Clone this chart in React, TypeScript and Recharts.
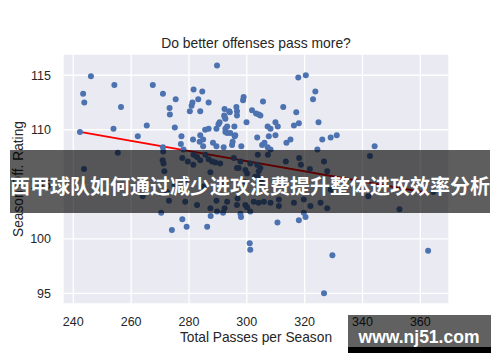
import React from 'react';
import { ScatterChart, Scatter, XAxis, YAxis, CartesianGrid, ReferenceLine, Label } from 'recharts';

// Total passes per season (x) and season offensive rating (y)
const passes = [
  246.1, 254.2, 243.4, 243.8, 256.5, 242.3, 253.9, 267.5, 271.0, 275.4,
  273.3, 273.4, 265.4, 262.3, 275.1, 277.4, 277.2, 278.1, 271.0, 281.4,
  281.6, 280.3, 280.9, 281.2, 289.7, 317.8, 320.4, 323.7, 322.9, 324.8,
  284.6, 283.2, 286.8, 283.9, 298.9, 298.7, 305.6, 312.6, 317.1, 292.3,
  294.1, 296.4, 296.6, 296.6, 292.2, 292.6, 301.8, 303.2, 304.1, 304.7,
  299.9, 290.6, 290.2, 289.5, 292.6, 293.2, 292.6, 293.2, 294.3, 295.7,
  296.0, 285.6, 286.8, 283.9, 284.9, 288.3, 289.5, 292.0, 294.9, 298.1,
  303.6, 305.3, 306.1, 307.2, 308.2, 307.2, 308.2, 309.9, 310.7, 307.6,
  309.9, 313.7, 315.1, 316.3, 318.0, 324.4, 329.0, 331.1, 344.2, 326.1,
  284.9, 283.7, 295.1, 295.8, 292.3, 293.9,
  255.4, 243.7, 271.1, 270.9, 271.2, 271.5, 277.7, 279.6, 281.6, 272.4,
  273.1, 264.0, 282.8, 283.9, 286.8, 288.0, 281.5, 290.8, 295.5, 297.8,
  297.2, 299.5, 301.2, 303.6, 278.7, 282.8, 287.4, 289.7, 293.2, 296.6,
  300.1, 301.2, 297.8, 303.8, 307.3, 313.5, 318.1, 318.7, 321.8, 326.7,
  327.8, 304.7, 304.1, 305.9, 304.1, 308.2, 311.1, 311.1, 316.3, 319.7,
  322.0, 325.5, 327.8, 329.0, 342.6, 342.0, 352.8, 364.5, 319.7, 302.4,
  296.8, 289.5, 292.3, 291.8, 299.5, 285.7, 289.1, 287.4, 296.6, 303.8,
  305.0, 302.9, 300.1, 299.5, 291.8, 285.1, 278.7, 275.0,
  270.4, 277.7, 274.1, 279.2, 286.3, 287.5, 298.0, 301.0, 301.2, 310.6,
  318.0, 320.3, 329.6, 326.7, 362.7,
];
const ratings = [
  114.9, 114.1, 113.3, 112.5, 112.1, 109.8, 110.1, 114.1, 113.3, 112.8,
  112.0, 111.4, 110.4, 109.4, 110.2, 109.4, 108.7, 108.2, 108.4, 109.1,
  113.7, 111.7, 112.2, 112.5, 115.9, 114.8, 115.0, 113.5, 112.8, 110.7,
  113.5, 112.8, 112.5, 111.7, 113.0, 112.7, 112.6, 112.1, 111.6, 111.9,
  111.6, 112.1, 111.7, 111.3, 111.3, 111.0, 111.8, 111.5, 111.4, 111.3,
  110.7, 110.7, 110.5, 110.1, 110.1, 110.3, 109.8, 109.7, 109.7, 110.3,
  109.5, 110.0, 110.1, 109.5, 109.1, 108.8, 108.5, 108.4, 108.6, 108.5,
  109.3, 108.6, 108.8, 108.4, 108.2, 110.3, 110.1, 110.7, 110.3, 109.4,
  109.5, 108.8, 109.1, 110.4, 110.6, 108.2, 109.3, 109.5, 108.5, 109.1,
  108.5, 108.9, 108.9, 109.4, 111.2, 111.7,
  107.9, 106.4, 108.0, 107.2, 106.9, 106.2, 107.4, 107.1, 107.7, 104.3,
  103.5, 103.9, 107.5, 107.2, 107.3, 107.1, 106.8, 106.9, 107.4, 107.1,
  106.5, 106.3, 106.9, 106.8, 103.4, 103.1, 102.8, 102.5, 103.4, 103.1,
  102.9, 102.5, 102.3, 107.7, 107.7, 107.1, 107.4, 106.8, 106.4, 107.1,
  106.2, 106.5, 106.2, 103.4, 103.3, 103.3, 103.6, 103.0, 103.3, 103.6,
  103.0, 103.3, 102.8, 104.5, 107.6, 103.9, 102.7, 104.3, 102.4, 103.4,
  103.7, 103.5, 102.8, 102.4, 103.1, 107.7, 107.0, 106.1, 106.5, 105.7,
  105.2, 105.7, 106.0, 105.2, 105.0, 104.8, 105.4, 104.9,
  102.4, 101.8, 100.8, 101.1, 101.1, 102.1, 102.0, 99.6, 99.0, 101.5,
  101.7, 102.0, 98.5, 95.0, 98.9,
];

// Fitted regression line end points
const fitPasses = [242.3, 362.7];
const fitRatings = [109.8, 104.2];

const xTicks = [240, 260, 280, 300, 320, 340, 360];
const yTicks = [95, 100, 105, 110, 115];

const title = 'Do better offenses pass more?';
const xLabel = 'Total Passes per Season';
const yLabel = 'Season Off. Rating';
const bannerText = '西甲球队如何通过减少进攻浪费提升整体进攻效率分析';
const watermarkText = 'www.nj51.com';

const points = passes.map((p, i) => ({ x: p, y: ratings[i] }));

const FONT = "'Liberation Sans', Arial, sans-serif";
const INK = '#262626';

const Dot = (props: any) => {
  if (props.cx == null || props.cy == null) return <g />;
  return <circle cx={props.cx} cy={props.cy} r={3} fill="#4C72B0" />;
};

export default function App() {
  return (
    <div style={{ position: 'absolute', left: 0, top: 0, width: 500, height: 362, background: '#fff', fontFamily: FONT }}>
      <ScatterChart width={500} height={362} margin={{ top: 54, right: 51, bottom: 18, left: 0 }}>
        <CartesianGrid fill="#EAEAF2" stroke="#FFFFFF" strokeWidth={1.3} />
        <XAxis
          dataKey="x"
          type="number"
          domain={[236.44, 369.92]}
          ticks={xTicks}
          interval={0}
          allowDataOverflow
          height={40}
          tickLine={false}
          axisLine={false}
          tickSize={0}
          tickMargin={13}
          tick={{ fontSize: 12.5, fill: INK, fontFamily: FONT }}
        >
          <Label value={xLabel} position="insideBottom" offset={2} style={{ fontSize: 13.75, fill: INK, fontFamily: FONT }} />
        </XAxis>
        <YAxis
          dataKey="y"
          type="number"
          domain={[94.02, 116.95]}
          ticks={yTicks}
          interval={0}
          allowDataOverflow
          width={63}
          tickLine={false}
          axisLine={false}
          tickSize={0}
          tickMargin={12}
          tick={{ fontSize: 12.5, fill: INK, fontFamily: FONT }}
        >
          <Label value={yLabel} angle={-90} position="insideLeft" offset={18} style={{ fontSize: 13.75, fill: INK, fontFamily: FONT, textAnchor: 'middle' }} />
        </YAxis>
        <Scatter data={points} isAnimationActive={false} shape={Dot} />
        <ReferenceLine
          segment={[
            { x: fitPasses[0], y: fitRatings[0] },
            { x: fitPasses[1], y: fitRatings[1] },
          ]}
          stroke="#FF0000"
          strokeWidth={1.8}
          ifOverflow="visible"
        />
      </ScatterChart>
      <svg width={500} height={362} style={{ position: 'absolute', left: 0, top: 0, pointerEvents: 'none' }}>
        <text x={256} y={47.5} textAnchor="middle" fontSize={13.9} fill={INK} fontFamily={FONT}>{title}</text>
        <rect x={10} y={150} width={480} height={63} fill="rgba(0,0,0,0.63)" />
        <text x={250} y={193.5} textAnchor="middle" fontSize={20} fontWeight="bold" fill="#FFFFFF" fontFamily="'Noto Sans CJK SC', sans-serif">{bannerText}</text>
        <rect x={348} y={315} width={143} height={32} fill="rgba(0,0,0,0.62)" />
        <rect x={348} y={347} width={143} height={6} fill="#000000" />
        <text x={419} y={343} textAnchor="middle" fontSize={17.5} fontWeight="bold" fill="#FFFFFF" fontFamily={FONT}>{watermarkText}</text>
      </svg>
    </div>
  );
}
